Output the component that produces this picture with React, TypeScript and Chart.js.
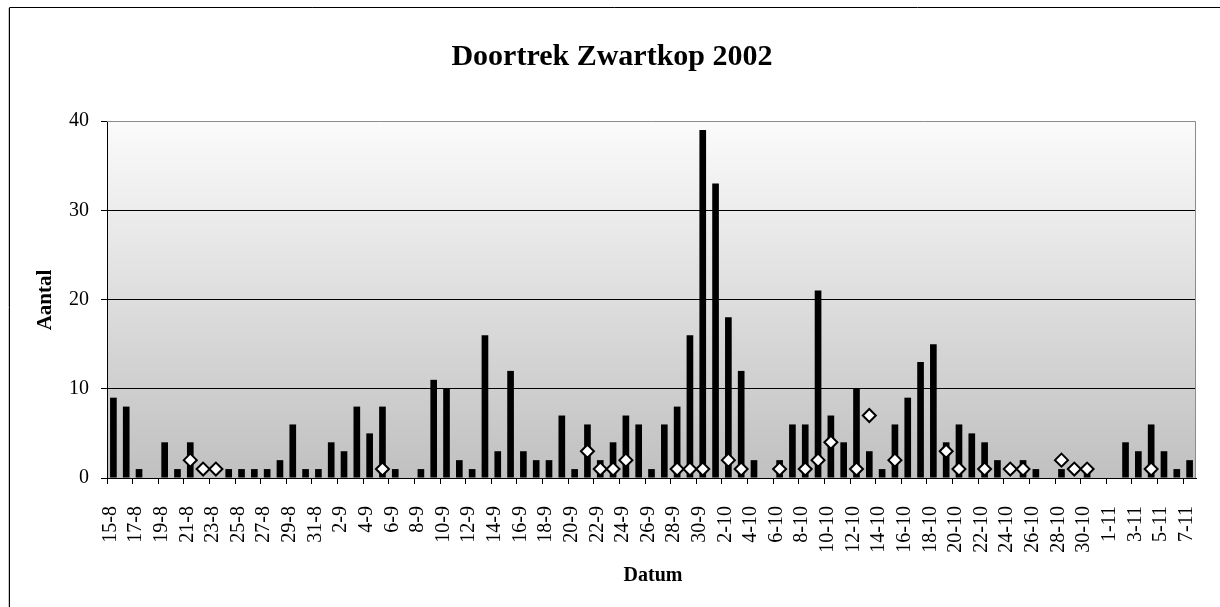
import React, { useEffect, useRef } from "react";
import { Chart, registerables } from "chart.js";

Chart.register(...registerables);

const dates: string[] = [
  "15-8", "16-8", "17-8", "18-8", "19-8", "20-8", "21-8", "22-8", "23-8", "24-8",
  "25-8", "26-8", "27-8", "28-8", "29-8", "30-8", "31-8",
  "1-9", "2-9", "3-9", "4-9", "5-9", "6-9", "7-9", "8-9", "9-9", "10-9",
  "11-9", "12-9", "13-9", "14-9", "15-9", "16-9", "17-9", "18-9", "19-9", "20-9",
  "21-9", "22-9", "23-9", "24-9", "25-9", "26-9", "27-9", "28-9", "29-9", "30-9",
  "1-10", "2-10", "3-10", "4-10", "5-10", "6-10", "7-10", "8-10", "9-10", "10-10",
  "11-10", "12-10", "13-10", "14-10", "15-10", "16-10", "17-10", "18-10", "19-10", "20-10",
  "21-10", "22-10", "23-10", "24-10", "25-10", "26-10", "27-10", "28-10", "29-10", "30-10",
  "31-10", "1-11", "2-11", "3-11", "4-11", "5-11", "6-11", "7-11",
];

const counts: number[] = [
  9, 8, 1, 0, 4, 1, 4, 0, 0, 1,
  1, 1, 1, 2, 6, 1, 1,
  4, 3, 8, 5, 8, 1, 0, 1, 11, 10,
  2, 1, 16, 3, 12, 3, 2, 2, 7, 1,
  6, 2, 4, 7, 6, 1, 6, 8, 16, 39,
  33, 18, 12, 2, 0, 2, 6, 6, 21, 7,
  4, 10, 3, 1, 6, 9, 13, 15, 4, 6,
  5, 4, 2, 0, 2, 1, 0, 1, 0, 1,
  0, 0, 4, 3, 6, 3, 1, 2,
];

const markers: (number | null)[] = [
  null, null, null, null, null, null, 2, 1, 1, null,
  null, null, null, null, null, null, null,
  null, null, null, null, 1, null, null, null, null, null,
  null, null, null, null, null, null, null, null, null, null,
  3, 1, 1, 2, null, null, null, 1, 1, 1,
  null, 2, 1, null, null, 1, null, 1, 2, 4,
  null, 1, 7, null, 2, null, null, null, 3, 1,
  null, 1, null, 1, 1, null, null, 2, 1, 1,
  null, null, null, null, 1, null, null, null,
];

const yTicks: number[] = [0, 10, 20, 30, 40];

const titleText = "Doortrek Zwartkop 2002";
const yTitle = "Aantal";
const xTitle = "Datum";

const FONT = "'Liberation Serif', 'Times New Roman', serif";

export default function App() {
  const ref = useRef<HTMLCanvasElement | null>(null);

  useEffect(() => {
    if (!ref.current) return;

    const decor = {
      id: "decor",
      beforeDraw(chart: any) {
        const { ctx, chartArea: a } = chart;
        const g = ctx.createLinearGradient(0, a.top, 0, a.bottom);
        g.addColorStop(0, "#fbfbfb");
        g.addColorStop(1, "#c0c0c0");
        ctx.save();
        ctx.fillStyle = g;
        ctx.fillRect(a.left, a.top, a.right - a.left, a.bottom - a.top);
        ctx.restore();
      },
      afterDraw(chart: any) {
        const { ctx, chartArea: a } = chart;
        ctx.save();
        ctx.strokeStyle = "#8c8c8c";
        ctx.lineWidth = 1;
        ctx.beginPath();
        ctx.moveTo(a.left, a.top + 0.5);
        ctx.lineTo(a.right - 0.5, a.top + 0.5);
        ctx.lineTo(a.right - 0.5, a.bottom);
        ctx.stroke();
        ctx.strokeStyle = "#000";
        ctx.beginPath();
        ctx.moveTo(9.5, 607);
        ctx.lineTo(9.5, 7.5);
        ctx.lineTo(1220, 7.5);
        ctx.stroke();
        ctx.strokeStyle = "#c8c8c8";
        ctx.beginPath();
        ctx.moveTo(8.5, 607);
        ctx.lineTo(8.5, 8);
        ctx.stroke();
        ctx.fillStyle = "#000";
        ctx.textAlign = "center";
        ctx.textBaseline = "middle";
        ctx.font = `bold 30px ${FONT}`;
        ctx.fillText(titleText, 612, 57);
        ctx.font = `bold 20px ${FONT}`;
        ctx.fillText(xTitle, 653, 576);
        ctx.font = `bold 21px ${FONT}`;
        ctx.translate(46, 300);
        ctx.rotate(-Math.PI / 2);
        ctx.fillText(yTitle, 0, 0);
        ctx.restore();
      },
    };

    const chart = new Chart(ref.current, {
      type: "bar",
      data: {
        labels: dates,
        datasets: [
          {
            type: "line",
            data: markers,
            showLine: false,
            pointStyle: "rectRot",
            pointRadius: 6.5,
            pointHoverRadius: 6.5,
            pointBorderWidth: 2,
            pointBackgroundColor: "#ffffff",
            pointBorderColor: "#000000",
            borderColor: "#000000",
            backgroundColor: "#ffffff",
            order: 0,
          } as any,
          {
            type: "bar",
            data: counts,
            backgroundColor: "#000000",
            borderWidth: 0,
            barPercentage: 1,
            categoryPercentage: 0.52,
            order: 1,
          },
        ],
      },
      options: {
        responsive: false,
        animation: false,
        events: [],
        layout: { padding: { top: 121, right: 24, bottom: 0, left: 0 } },
        plugins: {
          legend: { display: false },
          tooltip: { enabled: false },
          title: { display: false },
        },
        scales: {
          x: {
            type: "category",
            offset: true,
            afterFit(scale: any) {
              scale.height = 129;
              scale.paddingLeft = 0;
              scale.paddingRight = 0;
            },
            grid: {
              offset: true,
              drawOnChartArea: false,
              drawTicks: true,
              tickLength: 6,
              tickColor: (c: any) => (c.index % 2 === 0 ? "#000000" : "rgba(0,0,0,0)"),
            },
            border: { display: true, color: "#000000", width: 1 },
            ticks: {
              autoSkip: false,
              maxRotation: 90,
              minRotation: 90,
              padding: 22,
              labelOffset: -3,
              color: "#000000",
              font: { family: FONT, size: 20 },
              callback: (_v: any, i: number) => (i % 2 === 0 ? dates[i] : ""),
            },
          },
          y: {
            min: 0,
            max: 40,
            afterFit(scale: any) {
              scale.width = 107;
              scale.paddingTop = 0;
              scale.paddingBottom = 0;
            },
            afterBuildTicks(scale: any) {
              scale.ticks = yTicks.map((v) => ({ value: v }));
            },
            grid: {
              color: (c: any) => (c.tick && c.tick.value === 40 ? "rgba(0,0,0,0)" : "#000000"),
              tickColor: "#000000",
              tickLength: 6,
              lineWidth: 1,
            },
            border: { display: true, color: "#000000", width: 1 },
            ticks: {
              padding: 12,
              color: "#000000",
              font: { family: FONT, size: 20 },
            },
          },
        },
      },
      plugins: [decor],
    });

    return () => chart.destroy();
  }, []);

  return (
    <div style={{ position: "absolute", left: 0, top: 0, width: 1220, height: 607, background: "#fff" }}>
      <canvas ref={ref} width={1220} height={607} style={{ display: "block" }} />
    </div>
  );
}
